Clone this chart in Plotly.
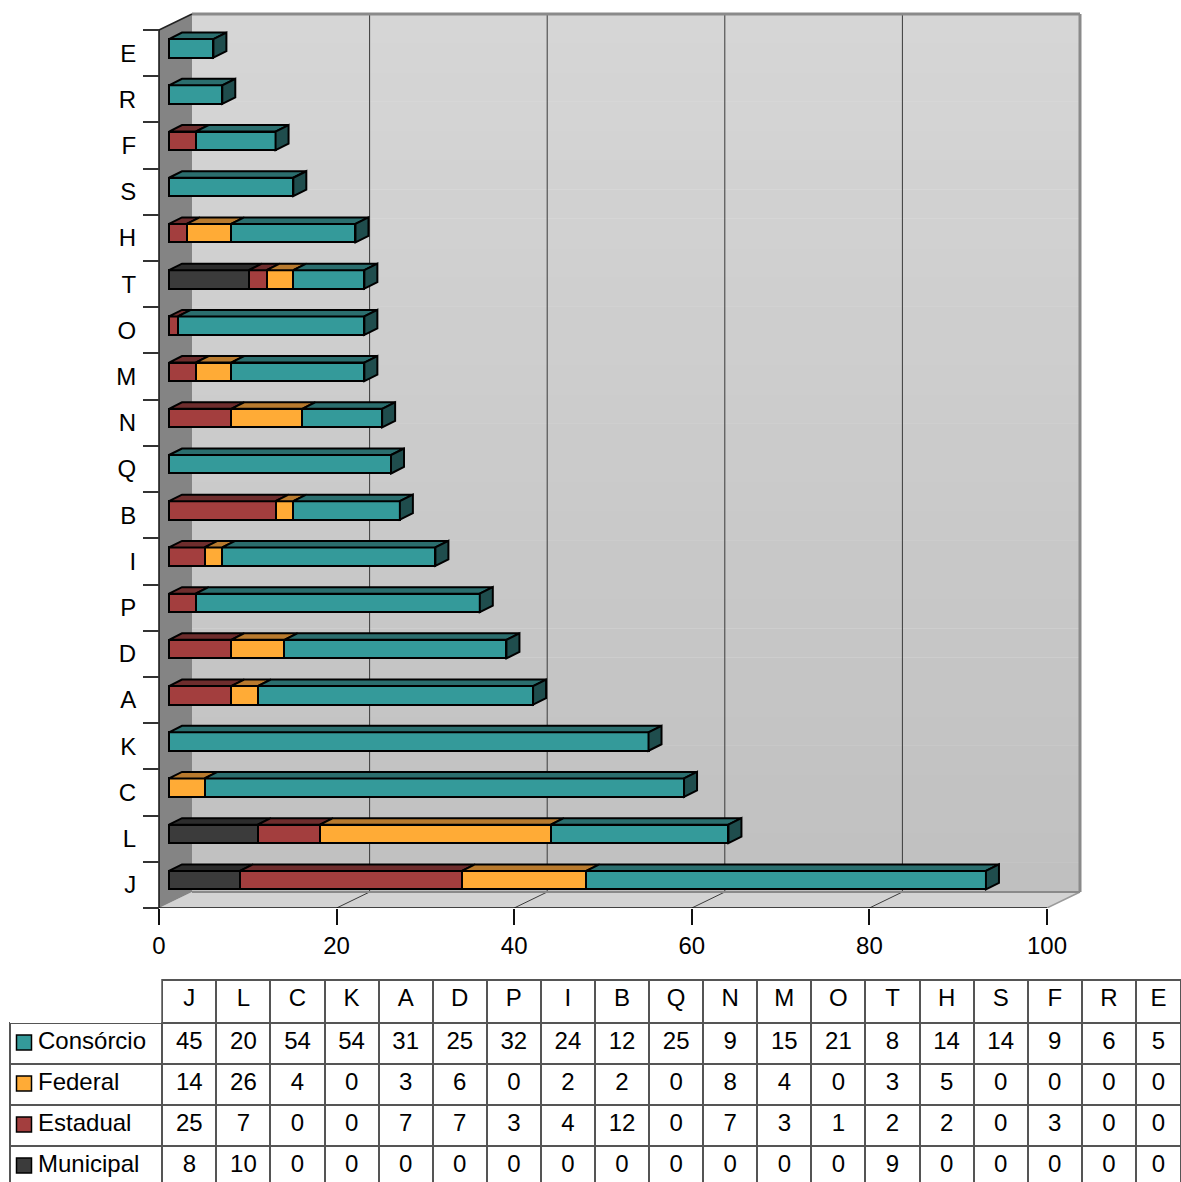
import plotly.graph_objects as go

# ---- data -------------------------------------------------------------
cats = ["J", "L", "C", "K", "A", "D", "P", "I", "B", "Q",
        "N", "M", "O", "T", "H", "S", "F", "R", "E"]
consorcio = [45, 20, 54, 54, 31, 25, 32, 24, 12, 25, 9, 15, 21, 8, 14, 14, 9, 6, 5]
federal = [14, 26, 4, 0, 3, 6, 0, 2, 2, 0, 8, 4, 0, 3, 5, 0, 0, 0, 0]
estadual = [25, 7, 0, 0, 7, 7, 3, 4, 12, 0, 7, 3, 1, 2, 2, 0, 3, 0, 0]
municipal = [8, 10, 0, 0, 0, 0, 0, 0, 0, 0, 0, 0, 0, 9, 0, 0, 0, 0, 0]
x_ticks = [0, 20, 40, 60, 80, 100]

# name, values, front / top / side colours (stacking order, left to right)
series = [
    ("Municipal", municipal, "#3b3b3b", "#2c2c2c", "#1e1e1e"),
    ("Estadual", estadual, "#a33e3e", "#6e2d2d", "#4e1f1f"),
    ("Federal", federal, "#ffab36", "#b87a2e", "#8a5a20"),
    ("Consórcio", consorcio, "#349a9a", "#2b6e6e", "#1f4d4d"),
]
table_order = ["Consórcio", "Federal", "Estadual", "Municipal"]

FONT = "Liberation Sans, Arial, sans-serif"

# ---- geometry of the pseudo-3D box (pixels) ----------------------------
W, H = 1181, 1182
ORIGIN_X = 159          # value 0 on the front plane
PXU = 8.88              # pixels per unit along x
FLOOR_Y = 908           # front bottom edge
TOP_Y = 30              # front top edge
n = len(cats)
PYU = (FLOOR_Y - TOP_Y) / n
WALL_DX, WALL_DY = 33, 16       # depth of the box
BAR_SHIFT_X, BAR_SHIFT_Y = 10, 4.75
BAR_DX, BAR_DY = 13, 6.5        # depth of each bar
BAR_WIDTH = 0.4

wdx, wdy = WALL_DX / PXU, WALL_DY / PYU
bdx, bdy = BAR_DX / PXU, BAR_DY / PYU
xr = [-ORIGIN_X / PXU, (W - ORIGIN_X) / PXU]
# the plot area also holds the receding top of the box
TOP_PAD = WALL_DY + 3
cat_lo, cat_hi = -0.5, n - 0.5
yr = [cat_lo, cat_hi + TOP_PAD / PYU]
ydom = [1 - FLOOR_Y / H, 1 - (TOP_Y - TOP_PAD) / H]
xmax = x_ticks[-1]

fig = go.Figure()

# ---- front faces of the stacked bars ----------------------------------
ypos = list(range(n))
for name, vals, front, top, side in series:
    fig.add_trace(go.Bar(
        y=ypos, x=vals, orientation="h", name=name,
        xaxis="x2", yaxis="y2", width=BAR_WIDTH,
        marker=dict(color=front, line=dict(color="black", width=2)),
        showlegend=False, hoverinfo="skip",
    ))

shapes = []


def path(pts):
    return "M " + " L ".join(f"{x},{y}" for x, y in pts) + " Z"


# back wall with a soft vertical gradient
NB = 30
for k in range(NB):
    t = k / (NB - 1)
    c = int(round(0xc0 + (0xd6 - 0xc0) * t))
    y0 = cat_lo + wdy + (cat_hi - cat_lo) * k / NB
    y1 = cat_lo + wdy + (cat_hi - cat_lo) * (k + 1) / NB
    shapes.append(dict(type="rect", xref="x", yref="y", layer="below",
                       x0=wdx, x1=xmax + wdx, y0=y0, y1=y1 + 0.01,
                       fillcolor=f"rgb({c},{c},{c})", line=dict(width=0)))

# floor
shapes.append(dict(type="path", xref="x", yref="y", layer="below",
                   path=path([(0, cat_lo), (xmax, cat_lo),
                              (xmax + wdx, cat_lo + wdy), (wdx, cat_lo + wdy)]),
                   fillcolor="#d3d3d3", line=dict(width=0)))
shapes.append(dict(type="line", xref="x", yref="y", layer="below",
                   x0=xmax, x1=xmax + wdx, y0=cat_lo, y1=cat_lo + wdy,
                   line=dict(color="#9a9a9a", width=1.5)))
# left wall
shapes.append(dict(type="path", xref="x", yref="y", layer="below",
                   path=path([(0, cat_lo), (0, cat_hi),
                              (wdx, cat_hi + wdy), (wdx, cat_lo + wdy)]),
                   fillcolor="#848484", line=dict(width=0)))

# gridlines on the back wall and across the floor
for v in x_ticks[1:-1]:
    shapes.append(dict(type="line", xref="x", yref="y", layer="below",
                       x0=v + wdx, x1=v + wdx, y0=cat_lo + wdy, y1=cat_hi + wdy,
                       line=dict(color="#3a3a3a", width=1)))
    shapes.append(dict(type="line", xref="x", yref="y", layer="below",
                       x0=v, x1=v + wdx, y0=cat_lo, y1=cat_lo + wdy,
                       line=dict(color="#3a3a3a", width=1)))

# wall edges
shapes.append(dict(type="line", xref="x", yref="y", layer="below",
                   x0=wdx, x1=xmax + wdx, y0=cat_lo + wdy, y1=cat_lo + wdy,
                   line=dict(color="#8a8a8a", width=2)))
shapes.append(dict(type="line", xref="x", yref="y", layer="below",
                   x0=wdx, x1=xmax + wdx, y0=cat_hi + wdy, y1=cat_hi + wdy,
                   line=dict(color="#8a8a8a", width=3)))
shapes.append(dict(type="line", xref="x", yref="y", layer="below",
                   x0=xmax + wdx, x1=xmax + wdx, y0=cat_lo + wdy, y1=cat_hi + wdy,
                   line=dict(color="#8a8a8a", width=3)))
shapes.append(dict(type="line", xref="x", yref="y", layer="below",
                   x0=0, x1=wdx, y0=cat_hi, y1=cat_hi + wdy,
                   line=dict(color="#222", width=1.5)))
shapes.append(dict(type="line", xref="x", yref="y", layer="below",
                   x0=0, x1=0, y0=cat_lo, y1=cat_hi,
                   line=dict(color="#111", width=1.5)))
shapes.append(dict(type="line", xref="x", yref="y", layer="below",
                   x0=0, x1=xmax, y0=cat_lo, y1=cat_lo,
                   line=dict(color="#111", width=1.5)))

# top and end faces of the bars
hw = BAR_WIDTH / 2
for i in range(n):
    start = 0
    last = None
    for name, vals, front, top, side in series:
        v = vals[i]
        if v == 0:
            continue
        end = start + v
        shapes.append(dict(type="path", xref="x2", yref="y2", layer="above",
                           path=path([(start, i + hw), (end, i + hw),
                                      (end + bdx, i + hw + bdy),
                                      (start + bdx, i + hw + bdy)]),
                           fillcolor=top, line=dict(color="black", width=2)))
        last = (end, side)
        start = end
    if last:
        end, side = last
        shapes.append(dict(type="path", xref="x2", yref="y2", layer="above",
                           path=path([(end, i - hw), (end + bdx, i - hw + bdy),
                                      (end + bdx, i + hw + bdy), (end, i + hw)]),
                           fillcolor=side, line=dict(color="black", width=2)))

# ---- data table under the chart ---------------------------------------
lookup = {name: (vals, front) for name, vals, front, _, _ in series}
TABLE_TOP = 980
HEAD_H, ROW_H = 43, 41
first_col = ["\u00a0\u00a0\u00a0" + name for name in table_order]
columns = [first_col] + [[lookup[name][0][j] for name in table_order]
                         for j in range(n)]
fig.add_trace(go.Table(
    domain=dict(x=[10 / W, 1], y=[0, 1 - TABLE_TOP / H]),
    columnwidth=[152] + [54] * (n - 1) + [45],
    header=dict(values=[""] + cats, height=HEAD_H, fill_color="white",
                line=dict(color=["white"] + ["#555"] * n,
                          width=[0] + [2] * n),
                font=dict(family=FONT, size=24, color="black"),
                align="center"),
    cells=dict(values=columns, height=ROW_H, fill_color="white",
               line=dict(color="#555", width=2),
               font=dict(family=FONT, size=24, color="black"),
               align=["left"] + ["center"] * n),
))

# legend keys in the first column
for k, name in enumerate(table_order):
    cy = TABLE_TOP + HEAD_H + ROW_H * (k + 0.5) - 1
    shapes.append(dict(type="rect", xref="paper", yref="paper", layer="above",
                       x0=16.5 / W, x1=31.5 / W,
                       y0=1 - (cy + 7.5) / H, y1=1 - (cy - 7.5) / H,
                       fillcolor=lookup[name][1],
                       line=dict(color="black", width=1.5)))

fig.update_layout(
    width=W, height=H,
    margin=dict(l=0, r=0, t=0, b=0),
    paper_bgcolor="white", plot_bgcolor="rgba(0,0,0,0)",
    barmode="stack",
    font=dict(family=FONT, size=24, color="black"),
    shapes=shapes,
    xaxis=dict(domain=[0, 1], range=xr, showgrid=False, zeroline=False,
               showline=False, tickmode="array", tickvals=x_ticks,
               ticks="outside", ticklen=16, tickcolor="#111", tickwidth=1.5,
               tickfont=dict(family=FONT, size=24, color="black"),
               anchor="y", fixedrange=True),
    yaxis=dict(domain=ydom, range=yr, showgrid=False, zeroline=False,
               showline=False, tickmode="array", tickvals=ypos,
               ticktext=cats, ticks="outside", ticklen=18,
               tickcolor="rgba(0,0,0,0)",
               minor=dict(tickmode="array",
                          tickvals=[i - 0.5 for i in range(n + 1)],
                          ticks="outside", ticklen=16, tickcolor="#333",
                          tickwidth=1.5),
               tickfont=dict(family=FONT, size=24, color="black"),
               anchor="free", position=ORIGIN_X / W, fixedrange=True),
    xaxis2=dict(domain=[0, 1], overlaying="x", anchor="y2",
                range=[xr[0] - BAR_SHIFT_X / PXU, xr[1] - BAR_SHIFT_X / PXU],
                visible=False, fixedrange=True),
    yaxis2=dict(domain=ydom, overlaying="y", anchor="x2", type="linear",
                range=[yr[0] - BAR_SHIFT_Y / PYU, yr[1] - BAR_SHIFT_Y / PYU],
                visible=False, fixedrange=True),
)

fig.write_html("out.html", config={"displayModeBar": False})
